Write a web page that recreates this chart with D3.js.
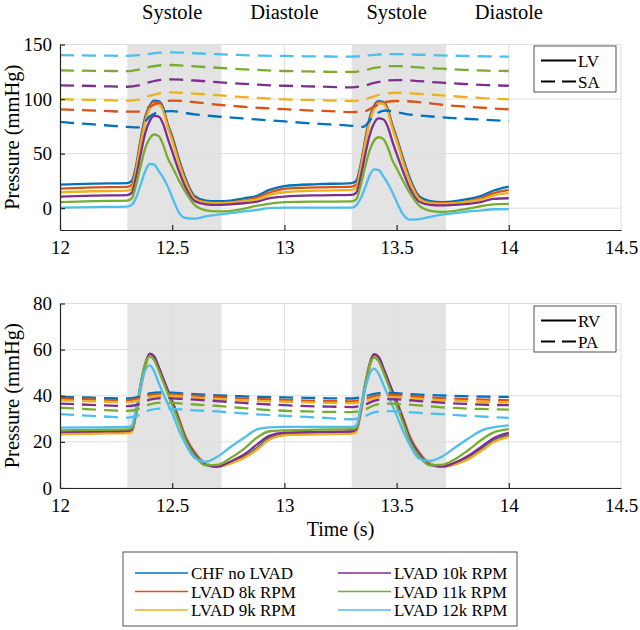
<!DOCTYPE html>
<html><head><meta charset="utf-8">
<script src="https://cdn.jsdelivr.net/npm/d3@7"></script>
<style>
body{margin:0;background:#fff}
svg{display:block}
svg text{font-family:"Liberation Serif","Times New Roman",Times,serif;fill:#000}
</style>
</head><body>
<svg id="c" width="640" height="630" font-family="Liberation Serif, serif"></svg>
<script>
// ---------- DATA ----------
const seriesNames = ["CHF no LVAD","LVAD 8k RPM","LVAD 9k RPM","LVAD 10k RPM","LVAD 11k RPM","LVAD 12k RPM"];
const seriesColors = ["#0072BD","#D95319","#EDB120","#7E2F8E","#77AC30","#4DBEEE"];

const xTicks = [12, 12.5, 13, 13.5, 14, 14.5];
const yTicksTop = [0, 50, 100, 150];
const yTicksBot = [0, 20, 40, 60, 80];
const phaseLabels = ["Systole","Diastole","Systole","Diastole"];
const phaseCenters = [12.5, 13.0, 13.5, 14.0];
const systoleStart = [12.3, 13.3];
const systoleEnd = [12.72, 13.72];

const timeSolid = [12.00,12.15,12.30,12.32,12.34,12.36,12.38,12.40,12.42,12.44,12.46,12.48,12.50,12.53,12.56,12.60,12.65,12.70,12.76,12.82,12.88,12.93,
                   13.00,13.15,13.30,13.32,13.34,13.36,13.38,13.40,13.42,13.44,13.46,13.48,13.50,13.53,13.56,13.60,13.65,13.70,13.76,13.82,13.88,13.93,
                   14.00];
const timeDashed = [12.0,12.1,12.2,12.3,12.35,12.4,12.45,12.5,12.55,12.6,12.7,12.8,12.9,
                    13.0,13.1,13.2,13.3,13.35,13.4,13.45,13.5,13.55,13.6,13.7,13.8,13.9,14.0];

// LV pressure (solid, top)
const lvCHF = [21.5,22.5,23,25,40,64,84,94,98.5,98,92,77,66,45,27,11,7,6.5,7,9,11.5,16.5,
               20.3,22,23,25,40,63,83,94,98,97.5,91.5,77,65,45,27,11,6.5,5.5,6.5,8.5,11.5,16,
               19.8];
const lv8k = [18,19,19.5,21.5,38,62,82,93,97.5,97,91,76,64,43,25,9.5,5.5,5,5.5,7,9.7,14,
              17.8,19,19.8,21.5,38,61,81,92.5,97.5,97,90.5,76,63.5,43,25,9.5,5,4.5,5,6.5,9.5,13.5,
              16.7];
const lv9k = [14.6,15.5,16,18,36,59,79,91,95.5,95,89,74,62,41,23.5,8.5,5,4.5,5,6.5,8.2,12,
              14.6,16,16.7,18.5,36,59,79,91,96,95.5,89,74,62,41,23.5,8.5,4.5,4,4.5,6,8,11.5,
              13.7];
const lv10k = [10.6,11.5,12,14,30,50,69,80,84.5,84,77,64,52,34,19,6.5,3.5,3,3.5,4.5,6,9,
               10.6,11.8,12.2,14,29,49,67,78,82.3,81.5,75,62,50,33,18,6,3,2.5,3,4,5.8,8.5,
               9.1];
const lv11k = [5.5,6.5,7,9,22,39,55,64,67.5,66,58,46,38,25.5,14.5,3,-2,-3,-2.5,-0.5,2.4,4,
               5.5,6,6.2,8,21,38,53,62,65,63.5,56,44.5,36.5,24.5,13.5,2.5,-2.5,-3.5,-2.5,-0.5,2,3.5,
               3.9];
const lv12k = [0.5,1,1.5,3,10,22,34,40.5,40,34,28,20,10,-4,-9,-9.5,-7.5,-6,-4.5,-3,-1.5,0,
               0.5,0.5,0.5,2.5,9,19,30,35.5,35,29.5,23,15,6,-6,-10.5,-10,-8,-6,-4.5,-3,-2,-1,
               -0.9];

// SA pressure (dashed, top)
const saCHF = [79,77.5,76,74.5,74,84,88.5,89,87.5,86,84,82.5,81,79.5,78,76.8,75.5,74.5,85,89.5,88,86,85,83.3,82,81,79.9];
const sa8k = [90.6,89.8,89.1,88.4,88.5,93,97.3,98.5,98.2,97.2,94.8,93.2,91.8,90.7,89.7,88.9,88.1,88.3,93,97.3,98.2,98,97.2,94.8,93.2,91.8,90.6];
const sa9k = [99.8,99.4,99,98.5,99.5,103,105.5,106.1,105.6,105,103.6,102,100.8,99.8,99.2,98.7,98.2,99.2,102.5,105,105.8,105.5,104.8,103.4,101.9,100.7,99.8];
const sa10k = [112.6,112.2,111.7,111.3,112.5,115.5,117.5,118,117.6,117,115.5,114.2,113,112.2,111.7,111.2,110.7,112,114.8,116.8,117.4,117.2,116.5,115,113.8,112.8,112.2];
const sa11k = [126.3,126,125.8,125.6,127,129.5,131,131.2,130.6,130,128.7,127.5,126.5,125.7,125.3,125,124.8,126,128.5,130,130.2,129.8,129,127.8,126.8,126,125.7];
const sa12k = [140.3,140,139.8,139.6,140.2,141.5,142.5,142.8,142.5,142,141.1,140.4,139.8,139.5,139.2,139,138.8,139.5,140.5,141.2,141.2,141,140.6,140,139.5,139.1,138.8];

// RV pressure (solid, bottom)
const rvCHF = [24,24.3,24.5,25,33,44,53,58,56.5,52,47,42,37.5,30,22,15.5,10.5,9.3,11,13.5,17.5,21.5,
               23.5,24,24.3,25,33,44,53,57.8,56.5,52,47,42,37.5,30,22,15.5,10.5,9.3,10.5,13,17,20.5,
               22.9];
const rv8k = [23.5,23.8,24,24.5,32.5,43.5,52.5,57.8,56.5,52,47,42,37.5,30,22,15.5,10.5,9.2,10.8,13.2,17,21,
              23,23.5,23.8,24.5,32.5,43.5,52.5,57.6,56.3,52,47,42,37.5,30,22,15.5,10.5,9.2,10.3,12.7,16.5,20,
              22.5];
const rv9k = [23.3,23.6,23.8,24.3,32.5,43.5,52.5,57.6,56.4,52,47,42,37.5,30,22,15.5,10.5,9.2,10.7,13,16.8,20.8,
              22.8,23.3,23.6,24.3,32.5,43.5,52.5,57.5,56.2,52,47,42,37.5,30,22,15.5,10.5,9.2,10.2,12.5,16.3,19.8,
              22.3];
const rv10k = [24.3,24.6,24.8,25.3,33.5,45,54,58.3,57,52.5,47.5,42.5,37.5,29.5,21.5,15,10,9.2,11.5,14.5,19,22.5,
               24,24.3,24.6,25.3,33.5,45,54,58,56.8,52.3,47.3,42.3,37.3,29.5,21.5,15,10,9.3,11,14,18,21.5,
               23.9];
const rv11k = [25,25.2,25.4,26,34,45.5,54,57,55.5,51,46,41,36,28.5,20.5,14,9.8,10,13,17,22,24.5,
               25,25.3,25.5,26,34,45,53.5,56.5,55,50.5,45.5,40.5,35.5,28,20,13.8,9.8,10,12.5,16.5,21,24,
               25.5];
const rv12k = [26.2,26.3,26.5,27,35,44,51,53.2,50.5,45.5,41,36.5,32.5,25,19,13,11.4,13.5,17.8,21.8,25.5,26.3,
               26.5,26.5,26.5,27,34.5,43,49.5,51.8,49.5,45,40.5,36,31.5,24.5,18.5,12.8,11.7,13.5,17.5,21.5,25,26.3,
               27.2];

// PA pressure (dashed, bottom)
const paCHF = [39.5,39.3,39.0,38.8,39.5,41.0,41.4,41.3,41.0,40.7,40.2,39.8,39.5,39.3,39.1,38.9,38.8,39.5,40.8,41.2,41.1,40.8,40.5,40.1,39.8,39.6,39.5];
const pa8k = [38.8,38.5,38.2,38.0,38.8,40.3,40.8,40.7,40.4,40.0,39.4,38.9,38.5,38.2,37.9,37.7,37.6,38.3,39.8,40.4,40.3,40.0,39.6,39.0,38.6,38.3,38.1];
const pa9k = [38.0,37.7,37.4,37.2,38.0,39.5,40.0,39.9,39.6,39.2,38.6,38.1,37.7,37.4,37.1,36.9,36.8,37.5,39.0,39.5,39.4,39.1,38.7,38.1,37.7,37.3,37.1];
const pa10k = [36.6,36.2,35.8,35.5,36.3,38.3,39.0,38.9,38.6,38.3,37.7,37.0,36.4,35.9,35.5,35.3,35.1,35.8,37.8,38.5,38.4,38.1,37.7,37.0,36.5,36.1,35.9];
const pa11k = [34.8,34.3,33.8,33.4,34.2,36.3,37.0,36.9,36.6,36.2,35.6,34.8,34.0,33.5,33.2,33.0,32.9,33.7,35.8,36.6,36.5,36.2,35.8,35.0,34.5,34.2,34.0];
const pa12k = [32.0,31.5,31.0,30.5,31.5,33.8,34.4,34.3,34.0,33.7,33.2,32.5,31.8,31.3,30.8,30.3,29.8,30.8,32.8,33.3,33.2,32.9,32.6,32.0,31.4,30.9,30.4];

// ---------- CHART ----------
const svg = d3.select("#c");
const FONT = '"Liberation Serif", "Times New Roman", serif';
const FS = 19;
const x = d3.scaleLinear().domain([12, 14.5]).range([60, 621]);
const yTop = d3.scaleLinear().domain([-20, 150]).range([230, 44.5]);
const yBot = d3.scaleLinear().domain([0, 80]).range([488, 303.5]);

function panel(y, yTicks, solids, dashes, legendNames, legTop) {
  const g = svg.append("g");
  const [y0, y1] = y.range();
  systoleStart.forEach((s, i) => {
    g.append("rect").attr("x", x(s)).attr("y", y1)
      .attr("width", x(systoleEnd[i]) - x(s)).attr("height", y0 - y1)
      .attr("fill", "#e3e3e3");
  });
  xTicks.forEach(v => {
    if (v === x.domain()[0]) return;
    g.append("line").attr("x1", x(v)).attr("x2", x(v)).attr("y1", y0).attr("y2", y1)
      .attr("stroke", "#dedede").attr("stroke-width", 1);
  });
  yTicks.forEach(v => {
    g.append("line").attr("x1", x.range()[0]).attr("x2", x.range()[1]).attr("y1", y(v)).attr("y2", y(v))
      .attr("stroke", "#dedede").attr("stroke-width", 1);
  });
  const lineS = d3.line().x((d, i) => x(timeSolid[i])).y(d => y(d)).curve(d3.curveMonotoneX);
  const lineD = d3.line().x((d, i) => x(timeDashed[i])).y(d => y(d)).curve(d3.curveMonotoneX);
  solids.forEach((s, k) => {
    g.append("path").attr("d", lineS(s)).attr("fill", "none")
      .attr("stroke", seriesColors[k]).attr("stroke-width", 2.3).attr("stroke-linejoin", "round");
  });
  dashes.forEach((s, k) => {
    g.append("path").attr("d", lineD(s)).attr("fill", "none")
      .attr("stroke", seriesColors[k]).attr("stroke-width", 2.3).attr("stroke-dasharray", "14,8");
  });
  const ax = g.append("g").attr("transform", `translate(0,${y0})`)
    .call(d3.axisBottom(x).tickValues(xTicks).tickFormat(d3.format("")).tickSizeInner(-5).tickSizeOuter(0).tickPadding(11));
  const ay = g.append("g").attr("transform", `translate(${x.range()[0]},0)`)
    .call(d3.axisLeft(y).tickValues(yTicks).tickSizeInner(-5).tickSizeOuter(0).tickPadding(8));
  [ax, ay].forEach(a => {
    a.attr("font-family", FONT).attr("font-size", FS);
    a.select(".domain").attr("stroke", "#262626").attr("stroke-width", 1.2);
    a.selectAll(".tick line").attr("stroke", "#262626").attr("stroke-width", 1.2);
    a.selectAll(".tick text").attr("font-family", FONT).attr("font-size", FS).attr("fill", "#000");
  });
  ax.selectAll(".tick").filter(d => d === 14.5).select("line").remove();
  g.append("text").attr("transform", `translate(19,${(y0 + y1) / 2}) rotate(-90)`)
    .attr("text-anchor", "middle").attr("font-family", FONT).attr("font-size", 20.5).text("Pressure (mmHg)");
  const lg = g.append("g");
  lg.append("rect").attr("x", 534).attr("y", legTop).attr("width", 82).attr("height", 46)
    .attr("fill", "#fff").attr("stroke", "#262626").attr("stroke-width", 0.8);
  legendNames.forEach((n, i) => {
    const yy = legTop + 14.5 + i * 21;
    lg.append("line").attr("x1", 541).attr("x2", 576).attr("y1", yy).attr("y2", yy)
      .attr("stroke", "#000").attr("stroke-width", 1.8).attr("stroke-dasharray", i === 1 ? "14,7" : null);
    lg.append("text").attr("x", 578).attr("y", yy + 6).attr("font-family", FONT).attr("font-size", 17).text(n);
  });
}

panel(yTop, yTicksTop, [lvCHF, lv8k, lv9k, lv10k, lv11k, lv12k],
      [saCHF, sa8k, sa9k, sa10k, sa11k, sa12k], ["LV", "SA"], 46);
panel(yBot, yTicksBot, [rvCHF, rv8k, rv9k, rv10k, rv11k, rv12k],
      [paCHF, pa8k, pa9k, pa10k, pa11k, pa12k], ["RV", "PA"], 306);

phaseLabels.forEach((t, i) => {
  svg.append("text").attr("x", x(phaseCenters[i])).attr("y", 19).attr("text-anchor", "middle")
    .attr("font-family", FONT).attr("font-size", 20.5).text(t);
});

svg.append("text").attr("x", (x.range()[0] + x.range()[1]) / 2).attr("y", 536)
  .attr("text-anchor", "middle").attr("font-family", FONT).attr("font-size", 20).text("Time (s)");

const L = svg.append("g");
L.append("rect").attr("x", 123).attr("y", 552).attr("width", 394).attr("height", 74)
  .attr("fill", "#fff").attr("stroke", "#262626").attr("stroke-width", 0.8);
seriesNames.forEach((n, i) => {
  const col = Math.floor(i / 3), row = i % 3;
  const lx = col === 0 ? 135 : 338;
  const yy = 573 + row * 18.5;
  L.append("line").attr("x1", lx).attr("x2", lx + 53).attr("y1", yy).attr("y2", yy)
    .attr("stroke", seriesColors[i]).attr("stroke-width", 1.6);
  L.append("text").attr("x", lx + 56).attr("y", yy + 6).attr("font-family", FONT).attr("font-size", 17).text(n);
});
</script>
</body></html>
